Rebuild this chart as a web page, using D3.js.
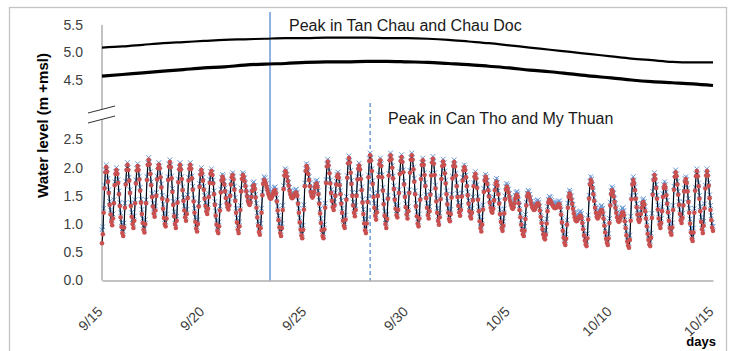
<!DOCTYPE html>
<html>
<head>
<meta charset="utf-8">
<script src="https://cdn.jsdelivr.net/npm/d3@7"></script>
<style>
  body { margin: 0; background: #fff; }
  svg { display: block; font-family: "Liberation Sans", Arial, sans-serif; }
</style>
</head>
<body>
<svg id="chart" width="732" height="351"></svg>
<script>
// time axis: hourly records from 9/15 00:00
const startDate = Date.UTC(2011, 8, 15);
const tickDays = [0, 5, 10, 15, 20, 25, 30];
const tickLabels = ["9/15", "9/20", "9/25", "9/30", "10/5", "10/10", "10/15"];
const topTicks = [4.5, 5.0, 5.5];
const bottomTicks = [0, 0.5, 1.0, 1.5, 2.0, 2.5];

// daily levels, upper panel
const tanChau = [5.09,5.11,5.14,5.17,5.19,5.21,5.23,5.24,5.25,5.26,5.26,5.27,5.27,5.27,5.26,5.26,
  5.25,5.23,5.20,5.17,5.13,5.09,5.05,5.01,4.97,4.93,4.89,4.86,4.83,4.82,4.82];
const chauDoc = [4.57,4.60,4.63,4.66,4.69,4.72,4.74,4.77,4.79,4.80,4.82,4.83,4.83,4.84,4.84,4.83,
  4.82,4.80,4.78,4.75,4.72,4.68,4.65,4.61,4.57,4.54,4.50,4.47,4.45,4.43,4.40];

// hourly levels, lower panel (red dots)
const canTho = [
0.66,0.82,1.20,1.63,1.92,2.01,
1.93,1.75,1.55,1.34,1.17,1.04,0.98,1.10,1.37,1.69,1.89,1.96,
1.89,1.73,1.53,1.32,1.12,0.95,0.84,0.79,0.94,1.29,1.70,1.96,2.05,
1.96,1.77,1.55,1.32,1.13,1.00,0.93,1.06,1.37,1.72,1.95,2.03,
1.96,1.79,1.59,1.38,1.18,1.02,0.90,0.85,1.00,1.37,1.78,2.05,2.14,
2.06,1.89,1.69,1.48,1.31,1.19,1.13,1.24,1.50,1.79,1.99,2.05,
1.99,1.83,1.65,1.45,1.27,1.11,1.00,0.96,1.10,1.42,1.78,2.02,2.10,
2.01,1.81,1.57,1.34,1.14,1.00,0.93,1.06,1.38,1.74,1.97,2.05,
1.97,1.80,1.60,1.41,1.24,1.12,1.06,1.18,1.46,1.77,1.98,2.05,
1.98,1.81,1.61,1.40,1.20,1.04,0.92,0.87,1.00,1.31,1.66,1.88,1.96,
1.90,1.77,1.61,1.45,1.32,1.23,1.18,1.27,1.48,1.73,1.89,1.94,
1.87,1.72,1.53,1.34,1.15,0.99,0.88,0.84,0.96,1.24,1.56,1.77,1.84,
1.79,1.70,1.58,1.46,1.36,1.30,1.26,1.33,1.50,1.70,1.83,1.87,
1.79,1.61,1.41,1.20,1.03,0.90,0.84,0.96,1.25,1.58,1.80,1.87,
1.84,1.76,1.67,1.58,1.49,1.41,1.36,1.34,1.38,1.48,1.59,1.67,1.69,
1.62,1.47,1.29,1.12,0.97,0.86,0.81,0.93,1.20,1.51,1.71,1.78,
1.76,1.71,1.66,1.60,1.54,1.50,1.46,1.45,1.47,1.51,1.56,1.59,1.60,
1.54,1.40,1.24,1.07,0.94,0.84,0.79,0.93,1.25,1.62,1.86,1.94,
1.91,1.84,1.76,1.68,1.59,1.53,1.48,1.46,1.47,1.50,1.53,1.55,1.56,
1.50,1.36,1.20,1.03,0.90,0.80,0.75,0.90,1.26,1.67,1.94,2.03,
1.99,1.89,1.78,1.67,1.57,1.50,1.47,1.50,1.57,1.65,1.70,1.72,
1.66,1.53,1.36,1.19,1.02,0.89,0.79,0.75,0.91,1.29,1.73,2.02,2.11,
2.04,1.90,1.72,1.55,1.41,1.30,1.25,1.33,1.50,1.70,1.84,1.88,
1.82,1.69,1.53,1.36,1.20,1.06,0.97,0.93,1.08,1.43,1.82,2.08,2.17,
2.09,1.91,1.71,1.50,1.33,1.20,1.14,1.25,1.50,1.79,1.98,2.04,
1.97,1.80,1.60,1.38,1.18,1.01,0.89,0.84,1.01,1.39,1.83,2.12,2.22,
2.13,1.94,1.71,1.48,1.29,1.15,1.08,1.21,1.50,1.84,2.06,2.13,
2.03,1.83,1.59,1.35,1.15,1.00,0.93,1.09,1.45,1.86,2.13,2.22,
2.15,2.00,1.81,1.62,1.43,1.27,1.16,1.12,1.25,1.55,1.89,2.12,2.19,
2.10,1.92,1.70,1.48,1.30,1.17,1.10,1.23,1.55,1.91,2.14,2.22,
2.14,1.97,1.75,1.53,1.31,1.14,1.01,0.96,1.10,1.43,1.80,2.05,2.13,
2.05,1.87,1.67,1.46,1.29,1.16,1.10,1.23,1.52,1.86,2.09,2.16,
2.07,1.87,1.63,1.40,1.20,1.06,0.99,1.12,1.44,1.80,2.03,2.11,
2.05,1.90,1.72,1.53,1.35,1.20,1.09,1.05,1.18,1.47,1.81,2.03,2.10,
2.02,1.86,1.67,1.48,1.32,1.21,1.15,1.25,1.49,1.77,1.95,2.01,
1.96,1.83,1.67,1.51,1.36,1.23,1.14,1.10,1.20,1.42,1.67,1.84,1.89,
1.81,1.64,1.43,1.23,1.05,0.93,0.87,0.99,1.26,1.57,1.77,1.84,
1.80,1.71,1.60,1.49,1.38,1.29,1.23,1.20,1.27,1.42,1.60,1.71,1.75,
1.68,1.53,1.36,1.18,1.04,0.93,0.88,0.97,1.19,1.44,1.61,1.66,
1.63,1.56,1.48,1.41,1.34,1.29,1.27,1.30,1.37,1.45,1.50,1.52,
1.48,1.37,1.25,1.12,0.99,0.89,0.82,0.79,0.88,1.09,1.33,1.49,1.54,
1.52,1.47,1.41,1.35,1.30,1.27,1.25,1.26,1.30,1.34,1.36,1.37,
1.33,1.24,1.13,1.02,0.91,0.82,0.76,0.73,0.81,1.01,1.23,1.38,1.43,
1.42,1.39,1.36,1.33,1.31,1.29,1.28,1.29,1.31,1.33,1.35,1.35,
1.29,1.17,1.03,0.88,0.76,0.67,0.63,0.74,0.99,1.29,1.48,1.54,
1.51,1.44,1.36,1.27,1.19,1.12,1.07,1.05,1.06,1.09,1.12,1.14,1.15,
1.11,1.02,0.91,0.80,0.71,0.64,0.61,0.75,1.08,1.45,1.70,1.78,
1.74,1.64,1.53,1.41,1.29,1.20,1.13,1.10,1.12,1.16,1.21,1.24,1.25,
1.20,1.10,0.97,0.85,0.74,0.67,0.63,0.75,1.02,1.33,1.53,1.60,
1.57,1.49,1.39,1.29,1.20,1.12,1.06,1.04,1.06,1.11,1.16,1.20,1.21,
1.16,1.05,0.93,0.80,0.69,0.62,0.58,0.72,1.06,1.44,1.70,1.78,
1.72,1.60,1.45,1.30,1.17,1.08,1.04,1.08,1.18,1.29,1.37,1.39,
1.34,1.23,1.10,0.96,0.83,0.72,0.64,0.61,0.76,1.11,1.52,1.78,1.87,
1.80,1.64,1.45,1.26,1.10,0.99,0.93,1.02,1.23,1.48,1.64,1.69,
1.64,1.51,1.36,1.21,1.06,0.93,0.85,0.81,0.94,1.25,1.61,1.84,1.92,
1.85,1.70,1.52,1.34,1.18,1.07,1.02,1.11,1.33,1.58,1.75,1.80,
1.73,1.58,1.39,1.20,1.01,0.85,0.74,0.70,0.85,1.20,1.59,1.85,1.94,
1.85,1.67,1.45,1.23,1.04,0.91,0.84,0.97,1.28,1.63,1.86,1.94,
1.86,1.68,1.46,1.25,1.07,0.94,0.88];

// hourly levels, lower panel (blue crosses)
const myThuan = [
0.90,0.95,1.28,1.69,1.96,2.05,
1.97,1.81,1.61,1.40,1.25,1.12,1.06,1.18,1.43,1.75,1.93,2.00,
1.93,1.79,1.59,1.38,1.20,1.03,0.92,0.87,1.02,1.37,1.76,2.00,2.09,
2.00,1.83,1.61,1.38,1.21,1.08,1.01,1.14,1.43,1.78,1.99,2.07,
2.00,1.85,1.65,1.44,1.26,1.10,0.98,0.93,1.08,1.43,1.84,2.09,2.18,
2.10,1.93,1.75,1.54,1.37,1.27,1.21,1.32,1.56,1.85,2.03,2.09,
2.03,1.87,1.71,1.51,1.35,1.19,1.08,1.04,1.18,1.48,1.84,2.06,2.14,
2.05,1.85,1.63,1.40,1.22,1.08,1.01,1.14,1.44,1.80,2.01,2.09,
2.01,1.84,1.66,1.47,1.32,1.20,1.14,1.26,1.52,1.83,2.02,2.09,
2.02,1.85,1.67,1.46,1.28,1.12,1.00,0.95,1.08,1.37,1.72,1.92,2.00,
1.94,1.83,1.67,1.51,1.38,1.31,1.26,1.35,1.54,1.79,1.93,1.98,
1.91,1.78,1.59,1.40,1.23,1.07,0.96,0.92,1.04,1.32,1.62,1.83,1.88,
1.85,1.76,1.64,1.52,1.42,1.36,1.34,1.39,1.56,1.76,1.87,1.91,
1.85,1.67,1.47,1.28,1.11,0.98,0.92,1.04,1.33,1.64,1.84,1.91,
1.88,1.82,1.73,1.64,1.55,1.47,1.42,1.40,1.44,1.54,1.65,1.73,1.75,
1.68,1.53,1.37,1.20,1.05,0.94,0.89,1.01,1.28,1.57,1.77,1.84,
1.82,1.77,1.72,1.66,1.60,1.56,1.52,1.51,1.53,1.57,1.62,1.65,1.66,
1.60,1.46,1.32,1.15,1.02,0.92,0.87,1.01,1.33,1.68,1.90,1.98,
1.95,1.88,1.82,1.74,1.65,1.59,1.54,1.52,1.53,1.56,1.59,1.61,1.62,
1.56,1.42,1.28,1.11,0.98,0.88,0.83,0.98,1.34,1.73,1.98,2.07,
2.03,1.93,1.84,1.73,1.63,1.56,1.53,1.56,1.63,1.71,1.76,1.78,
1.72,1.59,1.42,1.27,1.10,0.97,0.87,0.83,0.99,1.37,1.79,2.06,2.15,
2.08,1.94,1.78,1.61,1.47,1.36,1.33,1.39,1.56,1.76,1.88,1.92,
1.86,1.75,1.59,1.42,1.28,1.14,1.05,1.01,1.16,1.49,1.86,2.12,2.21,
2.13,1.95,1.77,1.56,1.39,1.28,1.22,1.33,1.56,1.85,2.02,2.08,
2.01,1.84,1.66,1.44,1.26,1.09,0.97,0.92,1.09,1.45,1.87,2.16,2.26,
2.17,1.98,1.77,1.54,1.37,1.23,1.16,1.29,1.56,1.88,2.10,2.17,
2.07,1.87,1.65,1.41,1.23,1.08,1.01,1.17,1.51,1.90,2.17,2.26,
2.19,2.04,1.85,1.68,1.49,1.35,1.24,1.20,1.33,1.61,1.93,2.16,2.23,
2.14,1.96,1.76,1.54,1.36,1.25,1.18,1.31,1.61,1.95,2.18,2.26,
2.18,2.01,1.81,1.59,1.37,1.22,1.09,1.04,1.18,1.49,1.84,2.09,2.17,
2.09,1.91,1.73,1.52,1.37,1.24,1.18,1.31,1.58,1.90,2.13,2.20,
2.11,1.91,1.69,1.46,1.28,1.14,1.07,1.20,1.50,1.84,2.07,2.15,
2.09,1.94,1.78,1.59,1.41,1.28,1.17,1.13,1.26,1.53,1.85,2.07,2.14,
2.06,1.90,1.73,1.54,1.38,1.29,1.23,1.33,1.55,1.83,1.99,2.05,
2.00,1.87,1.73,1.57,1.42,1.31,1.22,1.18,1.28,1.48,1.73,1.88,1.93,
1.85,1.70,1.49,1.31,1.13,1.01,0.95,1.07,1.34,1.63,1.83,1.88,
1.84,1.77,1.66,1.55,1.44,1.37,1.31,1.28,1.35,1.48,1.66,1.77,1.81,
1.74,1.59,1.42,1.26,1.12,1.01,0.96,1.05,1.27,1.50,1.67,1.72,
1.69,1.62,1.54,1.47,1.40,1.37,1.35,1.36,1.43,1.51,1.56,1.58,
1.54,1.43,1.33,1.20,1.07,0.97,0.90,0.87,0.96,1.17,1.39,1.55,1.60,
1.58,1.53,1.47,1.41,1.36,1.35,1.33,1.34,1.36,1.40,1.42,1.43,
1.39,1.32,1.21,1.10,0.99,0.90,0.84,0.81,0.89,1.09,1.31,1.44,1.49,
1.48,1.45,1.42,1.39,1.37,1.37,1.36,1.37,1.37,1.39,1.41,1.41,
1.37,1.25,1.11,0.96,0.84,0.75,0.71,0.82,1.07,1.37,1.54,1.60,
1.57,1.50,1.42,1.35,1.27,1.20,1.15,1.13,1.14,1.17,1.20,1.22,1.23,
1.19,1.10,0.99,0.88,0.79,0.72,0.69,0.83,1.16,1.51,1.76,1.84,
1.80,1.70,1.59,1.47,1.37,1.28,1.21,1.18,1.20,1.24,1.29,1.32,1.33,
1.28,1.18,1.05,0.93,0.82,0.75,0.71,0.83,1.10,1.39,1.59,1.66,
1.63,1.55,1.45,1.37,1.28,1.20,1.14,1.12,1.14,1.19,1.24,1.28,1.29,
1.24,1.13,1.01,0.88,0.77,0.70,0.66,0.80,1.14,1.50,1.76,1.84,
1.78,1.66,1.51,1.36,1.25,1.16,1.12,1.16,1.26,1.37,1.43,1.45,
1.40,1.31,1.18,1.04,0.91,0.80,0.72,0.69,0.84,1.19,1.58,1.84,1.91,
1.84,1.70,1.51,1.34,1.18,1.07,1.01,1.10,1.31,1.54,1.70,1.75,
1.70,1.57,1.42,1.29,1.14,1.01,0.93,0.89,1.02,1.33,1.67,1.88,1.96,
1.89,1.76,1.58,1.40,1.26,1.15,1.10,1.19,1.39,1.64,1.81,1.84,
1.79,1.64,1.45,1.28,1.09,0.93,0.82,0.78,0.93,1.28,1.65,1.89,1.98,
1.89,1.73,1.51,1.31,1.12,0.99,0.92,1.05,1.36,1.69,1.90,1.98,
1.90,1.74,1.52,1.33,1.15,1.02,0.96];

// hours after start when the peaks pass
const peakTanChauHour = 198;
const peakCanThoHour = 316;

const HOUR = 3600e3, DAY = 24 * HOUR;
const svg = d3.select("#chart");

const x = d3.scaleUtc()
  .domain([startDate, startDate + 30 * DAY])
  .range([102, 713]);
const yTop = d3.scaleLinear().domain([4.5, 5.5]).range([80, 25]);
const yBot = d3.scaleLinear().domain([0, 2.5]).range([280.5, 139.5]);
const byHour = i => x(startDate + i * HOUR);
const byDay = i => x(startDate + i * DAY);

svg.append("rect").attr("width", 732).attr("height", 351).attr("fill", "#fff");
svg.append("rect")
  .attr("x", 9.5).attr("y", 7.5).attr("width", 717).attr("height", 360)
  .attr("fill", "none").attr("stroke", "#c4c4c4").attr("stroke-width", 1.3);

// y tick labels
const styleY = g => {
  g.select(".domain").remove();
  g.selectAll("text").attr("font-size", 14).attr("fill", "#404040")
    .attr("font-family", "Liberation Sans, Arial, sans-serif");
};
svg.append("g").attr("transform", "translate(102,0)")
  .call(d3.axisLeft(yTop).tickValues(topTicks).tickSize(0).tickPadding(19).tickFormat(d3.format(".1f")))
  .call(styleY);
svg.append("g").attr("transform", "translate(102,0)")
  .call(d3.axisLeft(yBot).tickValues(bottomTicks).tickSize(0).tickPadding(19).tickFormat(d3.format(".1f")))
  .call(styleY);

// broken y axis line
const axisColor = "#868686";
svg.append("line").attr("x1", 102).attr("x2", 102).attr("y1", yTop(5.5)).attr("y2", 109)
  .attr("stroke", axisColor);
svg.append("line").attr("x1", 102).attr("x2", 102).attr("y1", 119).attr("y2", yBot(0))
  .attr("stroke", axisColor);
[[113, 106], [123, 116]].forEach(([a, b]) => {
  svg.append("line").attr("x1", 88).attr("y1", a).attr("x2", 115).attr("y2", b)
    .attr("stroke", "#333").attr("stroke-width", 1);
});

// x axis
const gx = svg.append("g").attr("transform", `translate(0,${yBot(0)})`)
  .call(d3.axisBottom(x)
    .tickValues(tickDays.map(d => new Date(startDate + d * DAY)))
    .tickSize(0)
    .tickFormat((d, i) => tickLabels[i]));
gx.select(".domain").attr("stroke", axisColor);
gx.selectAll("text")
  .attr("y", 0).attr("dy", 0)
  .attr("text-anchor", "end")
  .attr("transform", "translate(1,32) rotate(-45)")
  .attr("font-size", 14).attr("fill", "#404040")
  .attr("font-family", "Liberation Sans, Arial, sans-serif");

// peak markers
svg.append("line")
  .attr("x1", byHour(peakTanChauHour)).attr("x2", byHour(peakTanChauHour))
  .attr("y1", 12).attr("y2", yBot(0))
  .attr("stroke", "#6e9ad6").attr("stroke-width", 1.5);
svg.append("line")
  .attr("x1", byHour(peakCanThoHour)).attr("x2", byHour(peakCanThoHour))
  .attr("y1", 103).attr("y2", yBot(0))
  .attr("stroke", "#6e9ad6").attr("stroke-width", 1.5).attr("stroke-dasharray", "4,3");

// upper panel lines
const topLine = d3.line().x((d, i) => byDay(i)).y(d => yTop(d)).curve(d3.curveMonotoneX);
svg.append("path").datum(tanChau).attr("d", topLine)
  .attr("fill", "none").attr("stroke", "#000").attr("stroke-width", 2.2);
svg.append("path").datum(chauDoc).attr("d", topLine)
  .attr("fill", "none").attr("stroke", "#000").attr("stroke-width", 3.2);

// lower panel tidal series
const botLine = d3.line().x((d, i) => byHour(i)).y(d => yBot(d));
svg.append("path").datum(myThuan).attr("d", botLine)
  .attr("fill", "none").attr("stroke", "#4f7fc0").attr("stroke-width", 1.2);
const s = 2.4;
svg.append("g").selectAll("path").data(myThuan).join("path")
  .attr("transform", (d, i) => `translate(${byHour(i)},${yBot(d)})`)
  .attr("d", `M${-s},${-s}L${s},${s}M${-s},${s}L${s},${-s}`)
  .attr("stroke", "#6a9ad8").attr("stroke-width", 1).attr("fill", "none");
svg.append("path").datum(canTho).attr("d", botLine)
  .attr("fill", "none").attr("stroke", "#000").attr("stroke-width", 1);
svg.append("g").selectAll("circle").data(canTho).join("circle")
  .attr("cx", (d, i) => byHour(i)).attr("cy", d => yBot(d)).attr("r", 2.3)
  .attr("fill", "#c9504f");

// texts
svg.append("text").attr("x", 289).attr("y", 31).attr("font-size", 16).attr("fill", "#1a1a1a")
  .text("Peak in Tan Chau and Chau Doc");
svg.append("text").attr("x", 388).attr("y", 123.5).attr("font-size", 16).attr("fill", "#1a1a1a")
  .text("Peak in Can Tho and My Thuan");
svg.append("text").attr("transform", "translate(48,125.5) rotate(-90)")
  .attr("text-anchor", "middle").attr("font-size", 15).attr("font-weight", "bold").attr("fill", "#000")
  .text("Water level (m +msl)");
svg.append("text").attr("x", 716).attr("y", 346).attr("text-anchor", "end")
  .attr("font-size", 13).attr("font-weight", "bold").attr("fill", "#000")
  .text("days");
</script>
</body>
</html>
